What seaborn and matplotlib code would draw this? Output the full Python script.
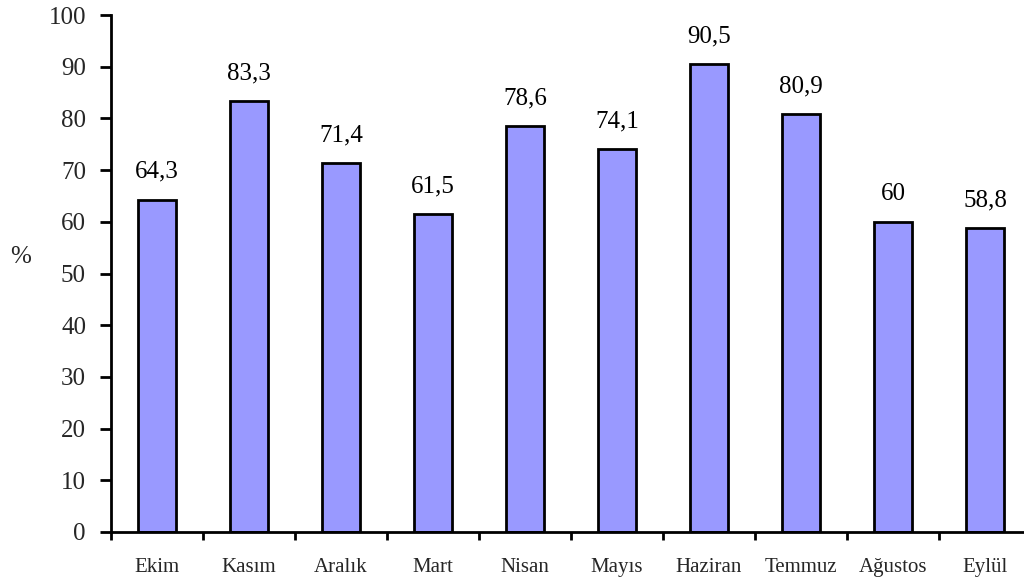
import matplotlib
matplotlib.use("Agg")
import matplotlib.pyplot as plt
import seaborn as sns
import pandas as pd

months = ["Ekim", "Kasım", "Aralık", "Mart", "Nisan", "Mayıs",
          "Haziran", "Temmuz", "Ağustos", "Eylül"]
values = [64.3, 83.3, 71.4, 61.5, 78.6, 74.1, 90.5, 80.9, 60, 58.8]
value_labels = ["64,3", "83,3", "71,4", "61,5", "78,6", "74,1",
                "90,5", "80,9", "60", "58,8"]
y_ticks = [0, 10, 20, 30, 40, 50, 60, 70, 80, 90, 100]

sns.set_theme(style="white")
plt.rcParams["font.family"] = ["Liberation Serif", "DejaVu Serif"]

df = pd.DataFrame({"ay": months, "oran": values})

W, H = 1024, 583
fig = plt.figure(figsize=(W / 100, H / 100), dpi=100)
left, right, bottom, top = 111, 1031, 532, 15
ax = fig.add_axes([left / W, (H - bottom) / H, (right - left) / W, (bottom - top) / H])

sns.barplot(data=df, x="ay", y="oran", ax=ax, color="#9999FF",
            saturation=1, width=0.41, edgecolor="black", linewidth=2)

ax.set_xlim(-0.5, len(months) - 0.5)
ax.set_ylim(0, 100)
ax.set_yticks(y_ticks)
ax.set_yticklabels([str(t) for t in y_ticks], fontsize=18)

# category ticks sit between bars, labels sit under bar centres
ax.set_xticks([i - 0.5 for i in range(len(months))], minor=False)
ax.set_xticklabels([])
ax.set_xticks(range(len(months)), minor=True)
ax.set_xticklabels(months, minor=True, fontsize=15)
ax.tick_params(axis="x", which="major", direction="out", length=6, width=2,
               color="black", bottom=True)
ax.tick_params(axis="x", which="minor", length=0, pad=19, bottom=True)
ax.tick_params(axis="y", direction="out", length=8, width=2, color="black",
               left=True, pad=10)

for s in ["top", "right"]:
    ax.spines[s].set_visible(False)
for s in ["left", "bottom"]:
    ax.spines[s].set_color("black")
    ax.spines[s].set_linewidth(2)

ax.set_xlabel("")
ax.set_ylabel("%", fontsize=18, rotation=0, labelpad=0, va="center", ha="center")
ax.yaxis.set_label_coords(-(111 - 21) / (right - left), (bottom - 257) / (bottom - top))

for i, (v, lab) in enumerate(zip(values, value_labels)):
    ax.annotate(lab, (i, v), xytext=(0, 12), textcoords="offset points",
                ha="center", va="bottom", fontsize=18, color="black")

fig.savefig("out.png", dpi=100)
